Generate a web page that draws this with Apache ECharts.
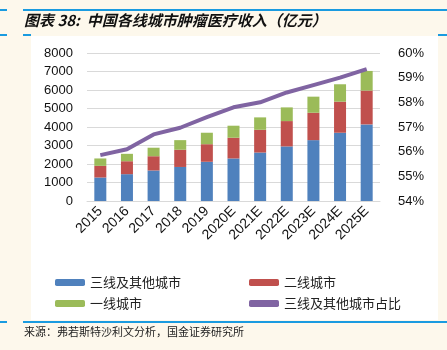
<!DOCTYPE html>
<html>
<head>
<meta charset="utf-8">
<script src="https://cdn.jsdelivr.net/npm/echarts@6/dist/echarts.min.js"></script>
<style>
  html, body { margin: 0; padding: 0; background: #fdf8ec; }
  #chart { width: 447px; height: 350px; }
</style>
</head>
<body>
<div id="chart"></div>
<script>
var years = ["2015", "2016", "2017", "2018", "2019", "2020E", "2021E", "2022E", "2023E", "2024E", "2025E"];
var tier3 = [1270, 1450, 1650, 1840, 2120, 2300, 2620, 2950, 3290, 3690, 4140];
var tier2 = [630, 700, 770, 930, 950, 1120, 1230, 1370, 1480, 1680, 1830];
var tier1 = [400, 400, 460, 520, 620, 650, 670, 740, 870, 940, 1060];
// 三线及其他城市占比 (%)
var tier3Share = [55.86, 56.1, 56.7, 56.97, 57.4, 57.8, 58.0, 58.4, 58.7, 59.0, 59.35];

var cjk = '"Noto Sans CJK SC", sans-serif';
var chart = echarts.init(document.getElementById("chart"));

var option = {
  backgroundColor: "#fdf8ec",
  animation: false,
  graphic: [
    { type: "rect", shape: { x: 31, y: 36, width: 407, height: 284 }, style: { fill: "#ffffff" }, z: -10 },
    { type: "rect", shape: { x: 0, y: 9, width: 7, height: 2 }, style: { fill: "#1a9be0" } },
    { type: "rect", shape: { x: 23, y: 9, width: 424, height: 2 }, style: { fill: "#1a9be0" } },
    { type: "rect", shape: { x: 0, y: 34, width: 7, height: 2 }, style: { fill: "#1a9be0" } },
    { type: "rect", shape: { x: 23, y: 34, width: 8, height: 2 }, style: { fill: "#1a9be0" } },
    { type: "rect", shape: { x: 438, y: 34, width: 9, height: 2 }, style: { fill: "#1a9be0" } },
    { type: "rect", shape: { x: 0, y: 321, width: 7, height: 2 }, style: { fill: "#1a9be0" } },
    { type: "rect", shape: { x: 23, y: 321, width: 424, height: 2 }, style: { fill: "#1a9be0" } },
    {
      type: "text", left: 24, top: 13,
      style: { text: "图表 38:  中国各线城市肿瘤医疗收入（亿元）", font: 'italic bold 15px ' + cjk, fill: "#111" }
    },
    {
      type: "text", left: 24, top: 326,
      style: { text: "来源：弗若斯特沙利文分析，国金证券研究所", font: '11px ' + cjk, fill: "#222" }
    }
  ],
  grid: { left: 87, right: 67, top: 53, bottom: 149 },
  legend: [
    {
      data: ["三线及其他城市", "一线城市"],
      orient: "vertical", left: 50, top: 271, itemGap: 8,
      itemWidth: 30, itemHeight: 7,
      textStyle: { fontFamily: cjk, fontSize: 13, color: "#222" }
    },
    {
      data: ["二线城市", { name: "三线及其他城市占比", icon: "roundRect" }],
      orient: "vertical", left: 244, top: 271, itemGap: 8,
      itemWidth: 30, itemHeight: 7,
      textStyle: { fontFamily: cjk, fontSize: 13, color: "#222" }
    }
  ],
  xAxis: {
    type: "category",
    data: years,
    axisLine: { lineStyle: { color: "#d9d9d9" } },
    axisTick: { show: false },
    axisLabel: { rotate: 45, fontFamily: "Liberation Sans", fontSize: 14, color: "#111", margin: 8, interval: 0 }
  },
  yAxis: [
    {
      type: "value", min: 0, max: 8000, interval: 1000,
      axisLabel: { fontFamily: "Liberation Sans", fontSize: 13, color: "#111", margin: 14, formatter: function (v) { return String(v); } },
      splitLine: { lineStyle: { color: "#d9d9d9" } },
      axisLine: { show: false }, axisTick: { show: false }
    },
    {
      type: "value", min: 54, max: 60, interval: 1,
      axisLabel: { fontFamily: "Liberation Sans", fontSize: 13, color: "#111", margin: 18, formatter: "{value}%" },
      splitLine: { show: false },
      axisLine: { show: false }, axisTick: { show: false }
    }
  ],
  series: [
    { name: "三线及其他城市", type: "bar", stack: "t", barWidth: 12, data: tier3, itemStyle: { color: "#4f81bd" } },
    { name: "二线城市", type: "bar", stack: "t", data: tier2, itemStyle: { color: "#c0504d" } },
    { name: "一线城市", type: "bar", stack: "t", data: tier1, itemStyle: { color: "#9bbb59" } },
    {
      name: "三线及其他城市占比", type: "line", yAxisIndex: 1, data: tier3Share,
      showSymbol: false, symbol: "none",
      lineStyle: { color: "#8064a2", width: 4 }, itemStyle: { color: "#8064a2" }
    }
  ]
};
chart.setOption(option);
</script>
</body>
</html>
